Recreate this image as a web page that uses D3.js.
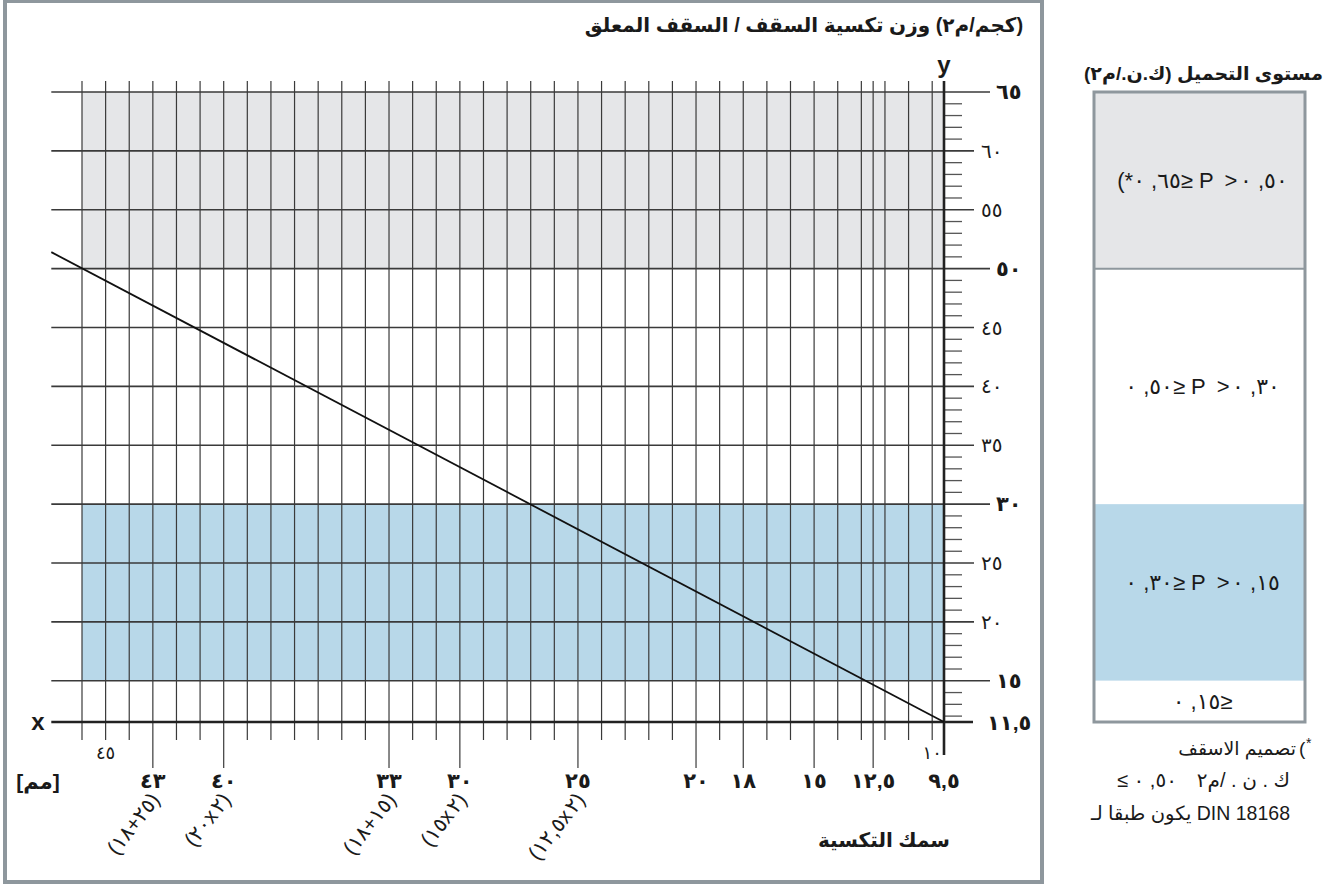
<!DOCTYPE html>
<html>
<head>
<meta charset="utf-8">
<script src="https://d3js.org/d3.v7.min.js"></script>
<style>
body { margin: 0; background: #fff; }
text { font-family: "Liberation Sans", "DejaVu Sans", sans-serif; fill: #1a1a1a; }
</style>
</head>
<body>
<script>
// cladding thickness (mm) -> weight (kg/m2)
var lineThickness = [9.5, 47.3]
var lineWeight = [11.5, 51.4]

// x axis (reversed, mm)
var gridThickness = d3.range(10, 47).concat([12.5])
var labelThickness = [43, 40, 33, 30, 25, 20, 18, 15, 12.5, 9.5]
var labelText = ["٤٣", "٤٠", "٣٣", "٣٠", "٢٥", "٢٠", "١٨", "١٥", "١٢,٥", "٩,٥"]
var layerThickness = [43, 40, 33, 30, 25]
var layerText = ["(١٨+٢٥)", "(٢٠x٢)", "(١٨+١٥)", "(١٥x٢)", "(١٢,٥x٢)"]
var smallThickness = [45, 10]
var smallText = ["٤٥", "١٠"]

// y axis (kg/m2)
var weightTicks = [65, 60, 55, 50, 45, 40, 35, 30, 25, 20, 15]
var weightText = ["٦٥", "٦٠", "٥٥", "٥٠", "٤٥", "٤٠", "٣٥", "٣٠", "٢٥", "٢٠", "١٥"]
var weightBold = [65, 50, 30, 15]

// load bands (kN/m2)
var bandTop = [65, 50, 30, 15]
var bandBottom = [50, 30, 15, 11.5]
var bandText = ["(*٠ ,٦٥≥ P >٠ ,٥٠", "٠ ,٥٠≥ P >٠ ,٣٠", "٠ ,٣٠≥ P >٠ ,١٥", "٠ ,١٥≥"]
var bandColor = ["#e5e6e8", "#ffffff", "#b8d8e9", "#ffffff"]

// force left-to-right visual order (no mirroring)
function vis(s) { return "\u202D" + s + "\u202C" }

var width = 1323, height = 886

var svg = d3.select("body")
    .append("svg")
    .attr("width", width)
    .attr("height", height)

var x = d3.scaleLinear().domain([9.5, 46]).range([944, 82])
var y = d3.scaleLinear().domain([11.5, 65]).range([722, 92])

var xLeft = x(47.3)
var gridTop = 81
var lineCol = "#3a3a3a"

// outer frame
svg.append("rect")
    .attr("x", 5).attr("y", 1)
    .attr("width", 1037).attr("height", 881)
    .attr("fill", "none")
    .attr("stroke", "#8e979d")
    .attr("stroke-width", 4)

// shaded bands in chart
var bands = bandTop.map(function (d, i) { return { top: d, bottom: bandBottom[i], color: bandColor[i], text: bandText[i] } })

svg.selectAll(".band")
    .data(bands.filter(function (d) { return d.color != "#ffffff" }))
    .enter().append("rect")
    .attr("x", x(46))
    .attr("y", function (d) { return y(d.top) })
    .attr("width", x(9.5) - x(46))
    .attr("height", function (d) { return y(d.bottom) - y(d.top) })
    .attr("fill", function (d) { return d.color })

// vertical grid
svg.selectAll(".vgrid")
    .data(gridThickness)
    .enter().append("line")
    .attr("x1", function (d) { return x(d) })
    .attr("x2", function (d) { return x(d) })
    .attr("y1", gridTop)
    .attr("y2", function (d) { return labelThickness.indexOf(d) >= 0 ? 768 : 740 })
    .attr("stroke", lineCol)
    .attr("stroke-width", 1.2)

// horizontal grid + long ticks
svg.selectAll(".hgrid")
    .data(weightTicks)
    .enter().append("line")
    .attr("x1", xLeft)
    .attr("x2", function (d) { return weightBold.indexOf(d) >= 0 ? 990 : 974 })
    .attr("y1", function (d) { return y(d) })
    .attr("y2", function (d) { return y(d) })
    .attr("stroke", lineCol)
    .attr("stroke-width", 1.6)

// minor ticks
svg.selectAll(".minor")
    .data(d3.range(12, 65).filter(function (d) { return d % 5 != 0 }))
    .enter().append("line")
    .attr("x1", x(9.5))
    .attr("x2", 962)
    .attr("y1", function (d) { return y(d) })
    .attr("y2", function (d) { return y(d) })
    .attr("stroke", "#555")
    .attr("stroke-width", 1.3)

// axes
svg.append("line")
    .attr("x1", x(9.5)).attr("x2", x(9.5))
    .attr("y1", gridTop).attr("y2", 755)
    .attr("stroke", "#222").attr("stroke-width", 2.6)
svg.append("line")
    .attr("x1", xLeft).attr("x2", 973)
    .attr("y1", y(11.5)).attr("y2", y(11.5))
    .attr("stroke", "#222").attr("stroke-width", 2.6)

// the weight line
var line = d3.line()
    .x(function (d) { return x(d[0]) })
    .y(function (d) { return y(d[1]) })
svg.append("path")
    .datum(d3.zip(lineThickness, lineWeight))
    .attr("d", line)
    .attr("fill", "none")
    .attr("stroke", "#111")
    .attr("stroke-width", 1.8)

// y labels
svg.selectAll(".ylab")
    .data(weightTicks)
    .enter().append("text")
    .attr("x", function (d) { return weightBold.indexOf(d) >= 0 ? 996 : 981 })
    .attr("y", function (d) { return y(d) + 7 })
    .attr("font-size", function (d) { return weightBold.indexOf(d) >= 0 ? 21 : 20 })
    .attr("font-weight", function (d) { return weightBold.indexOf(d) >= 0 ? "bold" : "normal" })
    .text(function (d, i) { return vis(weightText[i]) })
svg.append("text")
    .attr("x", 987).attr("y", y(11.5) + 8)
    .attr("font-size", 21).attr("font-weight", "bold")
    .text(vis("١١,٥"))

// x labels
svg.selectAll(".xlab")
    .data(labelThickness)
    .enter().append("text")
    .attr("x", function (d) { return x(d) })
    .attr("y", 788)
    .attr("text-anchor", "middle")
    .attr("font-size", 21).attr("font-weight", "bold")
    .text(function (d, i) { return vis(labelText[i]) })

svg.selectAll(".xsmall")
    .data(smallThickness)
    .enter().append("text")
    .attr("x", function (d) { return x(d) })
    .attr("y", 759)
    .attr("text-anchor", "middle")
    .attr("font-size", 18)
    .text(function (d, i) { return vis(smallText[i]) })

svg.selectAll(".layer")
    .data(layerThickness)
    .enter().append("text")
    .attr("transform", function (d) { return "translate(" + (x(d) + 8) + ",800) rotate(-52)" })
    .attr("text-anchor", "end")
    .attr("font-size", 21)
    .attr("letter-spacing", 2.5)
    .text(function (d, i) { return vis(layerText[i]) })

// axis names
svg.append("text").attr("x", 38).attr("y", 730).attr("text-anchor", "middle")
    .attr("font-size", 24).attr("font-weight", "bold").text("x")
svg.append("text").attr("x", x(9.5)).attr("y", 73).attr("text-anchor", "middle")
    .attr("font-size", 24).attr("font-weight", "bold").text("y")
svg.append("text").attr("direction", "rtl").attr("x", 38).attr("y", 789).attr("text-anchor", "middle")
    .attr("font-size", 21).attr("font-weight", "bold").text("[مم]")

svg.append("text").attr("direction", "rtl").attr("x", 804).attr("y", 32).attr("text-anchor", "middle")
    .attr("font-size", 20).attr("font-weight", "bold")
    .text("(كجم/م٢) وزن تكسية السقف / السقف المعلق")
svg.append("text").attr("direction", "rtl").attr("x", 884).attr("y", 847).attr("text-anchor", "middle")
    .attr("font-size", 20).attr("font-weight", "bold")
    .text("سمك التكسية")

// right panel - load level
var px = 1094, pw = 211

svg.append("text").attr("direction", "rtl").attr("x", px + pw / 2 + 4).attr("y", 80).attr("text-anchor", "middle")
    .attr("font-size", 19).attr("font-weight", "bold")
    .text("مستوى التحميل (ك.ن./م٢)")

svg.selectAll(".pband")
    .data(bands)
    .enter().append("rect")
    .attr("x", px)
    .attr("y", function (d) { return y(d.top) })
    .attr("width", pw)
    .attr("height", function (d) { return y(d.bottom) - y(d.top) })
    .attr("fill", function (d) { return d.color })

svg.append("line")
    .attr("x1", px).attr("x2", px + pw)
    .attr("y1", y(50)).attr("y2", y(50))
    .attr("stroke", "#8e979d").attr("stroke-width", 2)

svg.append("rect")
    .attr("x", px).attr("y", y(65))
    .attr("width", pw).attr("height", y(11.5) - y(65))
    .attr("fill", "none")
    .attr("stroke", "#8e979d").attr("stroke-width", 3)

svg.selectAll(".ptext")
    .data(bands)
    .enter().append("text")
    .attr("x", px + pw / 2 + 3)
    .attr("y", function (d, i) { return (y(d.top) + y(d.bottom)) / 2 + (i == 2 ? -2 : 8) })
    .attr("text-anchor", "middle")
    .attr("font-size", 22)
    .attr("letter-spacing", 2.6)
    .text(function (d) { return vis(d.text) })

// footnote
svg.append("text").attr("direction", "ltr").attr("x", 1296).attr("y", 755).attr("text-anchor", "end")
    .attr("font-size", 19).text("تصميم الاسقف")
svg.append("text").attr("x", 1299).attr("y", 755)
    .attr("font-size", 19).text(vis("("))
svg.append("text").attr("x", 1306).attr("y", 748)
    .attr("font-size", 14).text("*")
svg.append("text").attr("x", 1117).attr("y", 787)
    .attr("font-size", 20).attr("letter-spacing", 4).text(vis("≤ ٠ ,٥٠"))
svg.append("text").attr("direction", "ltr").attr("x", 1290).attr("y", 787).attr("text-anchor", "end")
    .attr("font-size", 20).attr("letter-spacing", 2).text("ك . ن . /م٢")
svg.append("text").attr("direction", "ltr").attr("x", 1290).attr("y", 820).attr("text-anchor", "end")
    .attr("font-size", 19.5).text("يكون طبقا لـ DIN 18168")
</script>
</body>
</html>
